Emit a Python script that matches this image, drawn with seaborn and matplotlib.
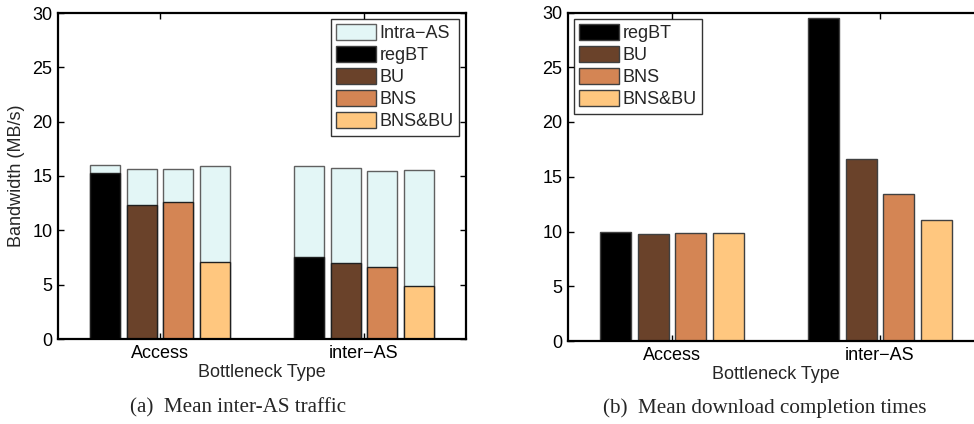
import numpy as np
import pandas as pd
import matplotlib
matplotlib.use("Agg")
import matplotlib.pyplot as plt
import matplotlib.patches as mpatches
import seaborn as sns

categories = ["Access", "inter\u2212AS"]
schemes = ["regBT", "BU", "BNS", "BNS&BU"]

# (a) mean inter-AS traffic (MB/s) and intra-AS part stacked on top
inter_as_access = [15.28, 12.30, 12.64, 7.12]
inter_as_interas = [7.52, 6.99, 6.60, 4.91]
intra_as_access = [0.76, 3.37, 3.03, 8.77]
intra_as_interas = [8.43, 8.71, 8.86, 10.67]

# (b) mean download completion times
dl_access = [9.98, 9.77, 9.89, 9.83]
dl_interas = [29.48, 16.61, 13.39, 11.07]

colors = ["#000000", "#6a422a", "#d48554", "#ffc77f"]
intra_color = "#e3f6f6"

sns.set_theme(style="white")
plt.rcParams["font.family"] = ["Liberation Sans", "DejaVu Sans"]

df_a = pd.DataFrame({
    "cat": np.repeat(categories, 4),
    "scheme": schemes * 2,
    "inter": inter_as_access + inter_as_interas,
    "intra": intra_as_access + intra_as_interas,
})
df_a["total"] = df_a["inter"] + df_a["intra"]

df_b = pd.DataFrame({
    "cat": np.repeat(categories, 4),
    "scheme": schemes * 2,
    "time": dl_access + dl_interas,
})

W, H = 974, 424
fig = plt.figure(figsize=(W / 100, H / 100), dpi=100)
ax1 = fig.add_axes([58 / W, 1 - 339 / H, 408 / W, 326 / H])
ax2 = fig.add_axes([568 / W, 1 - 341 / H, 416 / W, 328.5 / H])

bar_kw = dict(width=0.72, gap=0.18, dodge=True, legend=False, errorbar=None,
              saturation=1)

sns.barplot(data=df_a, x="cat", y="total", hue="scheme", hue_order=schemes,
            palette=[intra_color] * 4, edgecolor="#606060", linewidth=1.0,
            ax=ax1, **bar_kw)
sns.barplot(data=df_a, x="cat", y="inter", hue="scheme", hue_order=schemes,
            palette=colors, edgecolor="#202020", linewidth=1.0,
            ax=ax1, **bar_kw)

sns.barplot(data=df_b, x="cat", y="time", hue="scheme", hue_order=schemes,
            palette=colors, edgecolor="#404040", linewidth=1.0,
            ax=ax2, **bar_kw)

fs = 13
for ax in (ax1, ax2):
    ax.set_xlim(-0.5, 1.5)
    ax.set_ylim(0, 30)
    ax.set_yticks([0, 5, 10, 15, 20, 25, 30])
    ax.set_xticks([0, 1])
    ax.set_xticklabels(categories, fontsize=fs)
    ax.tick_params(axis="both", direction="in", length=4, width=1.0,
                   top=True, right=True, left=True, bottom=True,
                   labelsize=fs, colors="black", pad=4)
    ax.tick_params(axis="y", pad=4)
    for s in ax.spines.values():
        s.set_visible(True)
        s.set_color("black")
        s.set_linewidth(1.6)
    ax.set_xlabel("Bottleneck Type", fontsize=fs, labelpad=2)
    ax.grid(False)

ax1.set_ylabel("Bandwidth (MB/s)", fontsize=fs, labelpad=5)
ax2.set_ylabel("")

# legends
def patch(c, ec="#404040"):
    return mpatches.Patch(facecolor=c, edgecolor=ec, linewidth=1.0)

leg_kw = dict(fontsize=fs, frameon=True, fancybox=False, edgecolor="black",
              handlelength=2.2, handleheight=0.95, handletextpad=0.2,
              labelspacing=0.22, borderpad=0.3, borderaxespad=0.0)

h1 = [patch(intra_color, "#606060")] + [patch(c) for c in colors]
l1 = ["Intra\u2212AS"] + schemes
leg1 = ax1.legend(h1, l1, loc="upper right",
                  bbox_to_anchor=(1 - 7 / 408, 1 - 6 / 326), **leg_kw)
leg1.get_frame().set_linewidth(1.0)

h2 = [patch(c) for c in colors]
leg2 = ax2.legend(h2, schemes, loc="upper left",
                  bbox_to_anchor=(6 / 416, 1 - 6.3 / 328.5), **leg_kw)
leg2.get_frame().set_linewidth(1.0)

cap_font = ["Liberation Serif", "DejaVu Serif"]
fig.text(238 / W, 1 - 408 / H, "(a)  Mean inter-AS traffic", ha="center", va="center",
         fontsize=15.2, family=cap_font)
fig.text(765 / W, 1 - 408 / H, "(b)  Mean download completion times", ha="center",
         va="center", fontsize=15.2, family=cap_font)

fig.savefig("out.png", dpi=100)
